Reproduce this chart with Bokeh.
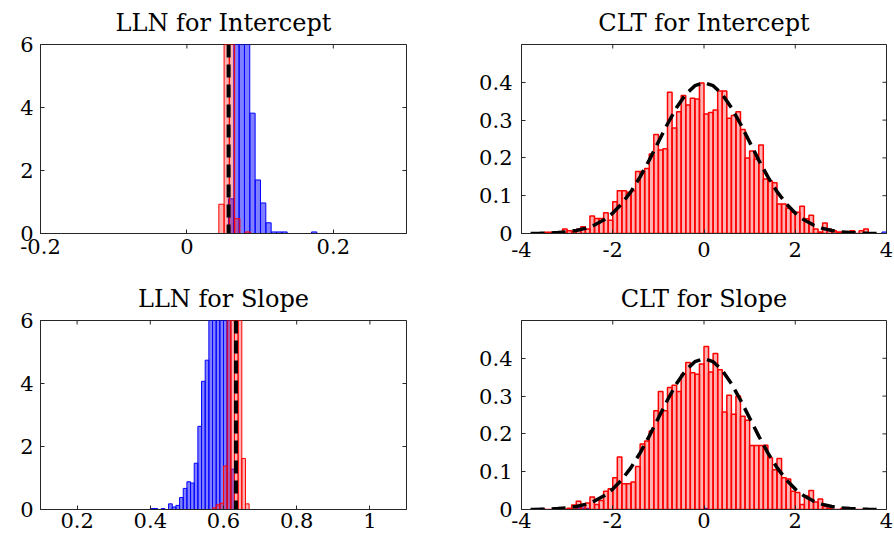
from math import pi
from bokeh.plotting import figure
from bokeh.layouts import row, column
from bokeh.models import Range1d, FixedTicker, Span, ColumnDataSource
from bokeh.embed import file_html
from bokeh.resources import INLINE

# ---------------- data ----------------
# LLN for Intercept (histograms of the estimate, two sample sizes)
lln_int_red_centers = [0.0472, 0.0544, 0.0616, 0.0688, 0.0760, 0.0832]
lln_int_red_heights = [0.93, 30.0, 14.0, 0.47, 0.0, 0.05]
lln_int_blue_centers = [0.0604, 0.0677, 0.0750, 0.0823, 0.0896, 0.0969,
                        0.1042, 0.1115, 0.1188, 0.1261, 0.1334, 0.1739]
lln_int_blue_heights = [1.1, 9.0, 14.0, 8.0, 3.82, 1.70, 0.97, 0.34, 0.05, 0.05, 0.05, 0.05]
lln_int_bin_w = 0.0072
lln_int_true = 0.057

# LLN for Slope
lln_slope_blue_lefts = [0.40, 0.41, 0.43, 0.45, 0.46, 0.47, 0.48, 0.49, 0.50, 0.51, 0.52,
                        0.53, 0.54, 0.55, 0.56, 0.57, 0.58, 0.59, 0.60, 0.61, 0.62]
lln_slope_blue_heights = [0.03, 0.03, 0.03, 0.18, 0.08, 0.13, 0.38, 0.67, 0.88, 0.84, 1.47,
                          2.64, 4.07, 4.74, 6.5, 8.0, 9.0, 9.0, 8.0, 7.0, 1.28]
lln_slope_red_lefts = [0.57, 0.58, 0.59, 0.60, 0.61, 0.62, 0.63, 0.64, 0.65, 0.66]
lln_slope_red_heights = [0.05, 0.15, 0.20, 1.38, 8.0, 25.0, 30.0, 12.0, 1.62, 0.18]
lln_slope_bin_w = 0.01
lln_slope_true = 0.634

# CLT histograms: bins of width 0.1 from -3.7 to 3.6
clt_bin_start = -3.7
clt_bin_w = 0.1
clt_int_heights = [
    0, 0, 0.003, 0.003, 0, 0.004, 0.012, 0.007, 0.005, 0.011, 0.018, 0.012, 0.046,
    0.04, 0.04, 0.055, 0.035, 0.084, 0.113, 0.113, 0.109, 0.113, 0.164, 0.164, 0.172,
    0.21, 0.262, 0.221, 0.224, 0.374, 0.279, 0.322, 0.365, 0.34, 0.358, 0.356, 0.398,
    0.316, 0.32, 0.327, 0.377, 0.377, 0.305, 0.312, 0.322, 0.275, 0.2, 0.218, 0.197,
    0.234, 0.144, 0.139, 0.134, 0.078, 0.078, 0.067, 0.056, 0.056, 0.072, 0.039, 0.048,
    0.012, 0.004, 0.028, 0.011, 0.007, 0.004, 0.004, 0.004, 0.007, 0, 0.007, 0.012]
clt_slope_heights = [
    0.002, 0.002, 0, 0, 0, 0, 0, 0.003, 0.012, 0.022, 0.013, 0.017, 0.033, 0.013, 0.024,
    0.048, 0.055, 0.084, 0.139, 0.068, 0.068, 0.073, 0.114, 0.173, 0.181, 0.208, 0.261,
    0.312, 0.261, 0.323, 0.329, 0.312, 0.358, 0.389, 0.362, 0.358, 0.385,
    0.431, 0.364, 0.413, 0.37, 0.258, 0.302, 0.252, 0.300, 0.247, 0.236, 0.169, 0.169,
    0.169, 0.17, 0.137, 0.105, 0.135, 0.084, 0.081, 0.048, 0.045, 0.013, 0.036, 0.05,
    0.02, 0.028, 0.008, 0.003, 0, 0, 0.003, 0.003, 0, 0, 0, 0]
clt_int_blue_centers = [3.15, 3.95]
clt_int_blue_heights = [0.004, 0.004]
clt_slope_blue_centers = [-3.65, -3.55, -2.75, -2.65, -2.55, 0.05]
clt_slope_blue_heights = [0.003, 0.003, 0.004, 0.004, 0.003, 0.003]

# standard normal density (dashed reference curve)
norm_x = [-3.8, -3.6, -3.4, -3.2, -3.0, -2.8, -2.6, -2.4, -2.2, -2.0, -1.8, -1.6, -1.4,
          -1.2, -1.0, -0.8, -0.6, -0.4, -0.2, 0.0, 0.2, 0.4, 0.6, 0.8, 1.0, 1.2, 1.4,
          1.6, 1.8, 2.0, 2.2, 2.4, 2.6, 2.8, 3.0, 3.2, 3.4, 3.6, 3.8]
norm_pdf = [0.0003, 0.0006, 0.0012, 0.0024, 0.0044, 0.0079, 0.0136, 0.0224, 0.0355,
            0.0540, 0.0790, 0.1109, 0.1497, 0.1942, 0.2420, 0.2897, 0.3332, 0.3683,
            0.3910, 0.3989, 0.3910, 0.3683, 0.3332, 0.2897, 0.2420, 0.1942, 0.1497,
            0.1109, 0.0790, 0.0540, 0.0355, 0.0224, 0.0136, 0.0079, 0.0044, 0.0024,
            0.0012, 0.0006, 0.0003]

# titles and ticks
titles = ["LLN for Intercept", "CLT for Intercept", "LLN for Slope", "CLT for Slope"]
lln_int_xticks = [-0.2, 0, 0.2]
lln_int_xlabels = ["-0.2", "0", "0.2"]
lln_slope_xticks = [0.2, 0.4, 0.6, 0.8, 1]
lln_slope_xlabels = ["0.2", "0.4", "0.6", "0.8", "1"]
lln_yticks = [0, 2, 4, 6]
lln_ylabels = ["0", "2", "4", "6"]
clt_xticks = [-4, -2, 0, 2, 4]
clt_xlabels = ["-4", "-2", "0", "2", "4"]
clt_yticks = [0, 0.1, 0.2, 0.3, 0.4]
clt_ylabels = ["0", "0.1", "0.2", "0.3", "0.4"]

# ---------------- styling ----------------
FONT = "DejaVu Serif"
FRAME = "#262626"
RED = "#ff0000"
BLUE = "#0000ff"


def style_axis(ax, standoff):
    ax.major_tick_in = 4
    ax.major_tick_out = 0
    ax.minor_tick_in = 0
    ax.minor_tick_out = 0
    ax.axis_line_color = FRAME
    ax.major_tick_line_color = FRAME
    ax.major_label_text_font = FONT
    ax.major_label_text_color = "black"
    ax.major_label_text_font_size = "21px"
    ax.major_label_standoff = standoff


def panel(title, xr, yr, xt, xl, yt, yl, fw, bl, br, bt, bb, ystand, xstand):
    p = figure(title=title, frame_width=fw, frame_height=189,
               x_range=Range1d(*xr), y_range=Range1d(*yr),
               output_backend="svg", toolbar_location=None, tools="",
               min_border_left=bl, min_border_right=br,
               min_border_top=bt, min_border_bottom=bb)
    p.title.text_font = FONT
    p.title.text_font_size = "24px"
    p.title.text_font_style = "normal"
    p.title.text_color = "black"
    p.title.align = "center"
    p.title.vertical_align = "top"
    p.title.standoff = 11
    p.grid.visible = False
    p.outline_line_color = FRAME
    p.outline_line_width = 1
    p.outline_line_alpha = 1

    p.xaxis.ticker = FixedTicker(ticks=xt)
    p.xaxis.major_label_overrides = dict(zip(xt, xl))
    p.yaxis.ticker = FixedTicker(ticks=yt)
    p.yaxis.major_label_overrides = dict(zip(yt, yl))
    style_axis(p.xaxis[0], xstand)
    style_axis(p.yaxis[0], ystand)

    # mirrored inward ticks on the top and right edges of the box
    # (centred dashes on the frame edge; the outer half is clipped by the frame)
    p.scatter(x=xt, y=[yr[1]] * len(xt), marker="dash", angle=pi / 2, size=8,
              line_color=FRAME, line_width=1)
    p.scatter(x=[xr[1]] * len(yt), y=yt, marker="dash", size=8,
              line_color=FRAME, line_width=1)
    return p


def bars(p, centers, heights, width, color, alpha, lw=1.0):
    src = ColumnDataSource(dict(x=centers, top=heights))
    p.vbar(x="x", top="top", bottom=0, width=width, source=src,
           fill_color=color, fill_alpha=alpha, line_color=color, line_width=lw)


def shift(lefts, w):
    return [l + w / 2 for l in lefts]


# --- LLN for Intercept ---
p1 = panel(titles[0], (-0.2, 0.3), (0, 6), lln_int_xticks, lln_int_xlabels,
           lln_yticks, lln_ylabels, 366, 40, 55, 44, 43, 7, 5)
bars(p1, lln_int_blue_centers, lln_int_blue_heights, lln_int_bin_w, BLUE, 0.5)
bars(p1, lln_int_red_centers, lln_int_red_heights, lln_int_bin_w, RED, 0.3)
p1.add_layout(Span(location=lln_int_true, dimension="height", line_color="black",
                   line_width=4, line_dash="13 7"))

# --- CLT for Intercept ---
p2 = panel(titles[1], (-4, 4), (0, 0.5), clt_xticks, clt_xlabels,
           clt_yticks, clt_ylabels, 365, 60, 8, 44, 43, 9, 8)
clt_centers = [clt_bin_start + clt_bin_w * (i + 0.5) for i in range(len(clt_int_heights))]
bars(p2, clt_int_blue_centers, clt_int_blue_heights, clt_bin_w, BLUE, 0.5)
bars(p2, clt_centers, clt_int_heights, clt_bin_w, RED, 0.3, 1.5)
p2.line(norm_x, norm_pdf, line_color="black", line_width=3.5, line_dash="14 7")

# --- LLN for Slope ---
p3 = panel(titles[2], (0.1, 1.1), (0, 6), lln_slope_xticks, lln_slope_xlabels,
           lln_yticks, lln_ylabels, 366, 40, 55, 44, 28, 7, 3)
bars(p3, shift(lln_slope_blue_lefts, lln_slope_bin_w), lln_slope_blue_heights,
     lln_slope_bin_w, BLUE, 0.5)
bars(p3, shift(lln_slope_red_lefts, lln_slope_bin_w), lln_slope_red_heights,
     lln_slope_bin_w, RED, 0.3)
p3.add_layout(Span(location=lln_slope_true, dimension="height", line_color="black",
                   line_width=4, line_dash="13 7"))

# --- CLT for Slope ---
p4 = panel(titles[3], (-4, 4), (0, 0.5), clt_xticks, clt_xlabels,
           clt_yticks, clt_ylabels, 365, 60, 8, 44, 28, 9, 3)
clt_centers_s = [clt_bin_start + clt_bin_w * (i + 0.5) for i in range(len(clt_slope_heights))]
bars(p4, clt_slope_blue_centers, clt_slope_blue_heights, clt_bin_w, BLUE, 0.5)
bars(p4, clt_centers_s, clt_slope_heights, clt_bin_w, RED, 0.3, 1.5)
p4.line(norm_x, norm_pdf, line_color="black", line_width=3.5, line_dash="14 7")

layout = column(row(p1, p2), row(p3, p4))

html = file_html(layout, INLINE, title="LLN and CLT")
html = html.replace("<head>",
                    "<head>\n<style>html, body { margin: 0; padding: 0; overflow: hidden; }</style>", 1)
open("out.html", "w").write(html)
